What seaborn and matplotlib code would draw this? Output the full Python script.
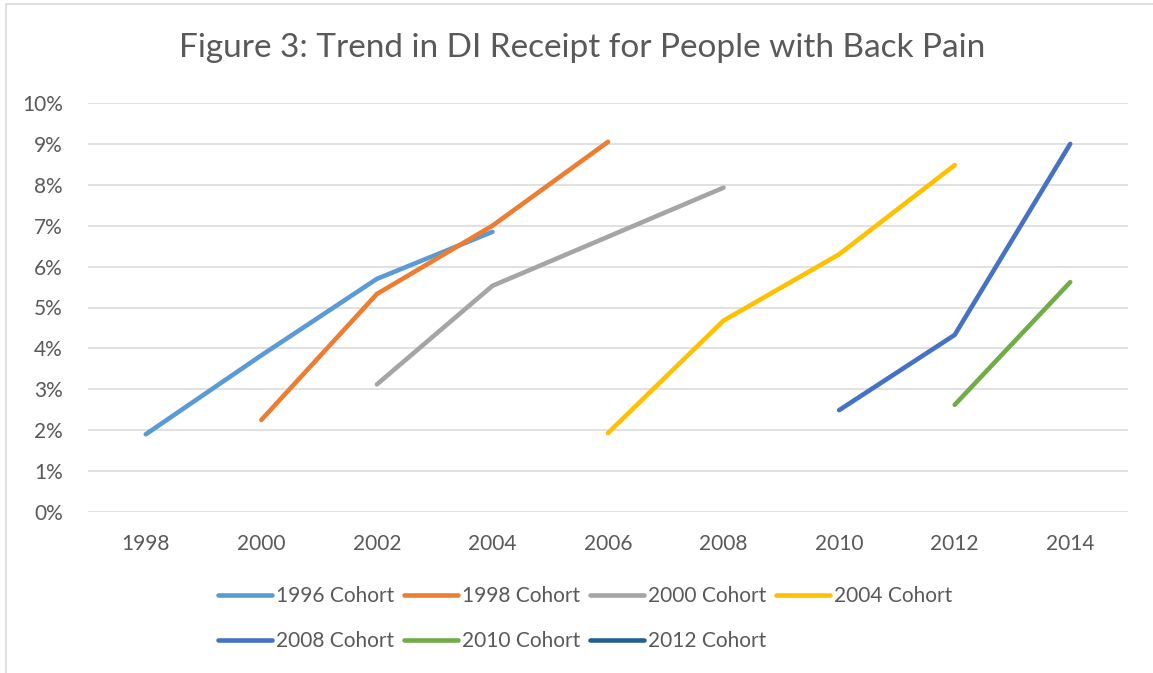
import numpy as np
import pandas as pd
import seaborn as sns
import matplotlib.pyplot as plt
from matplotlib.lines import Line2D
from matplotlib.patches import Rectangle
from matplotlib.ticker import PercentFormatter

# Werte (Anteil in %)
years = [1998, 2000, 2002, 2004, 2006, 2008, 2010, 2012, 2014]
nan = np.nan
cohort_1996 = [1.90, 3.83, 5.70, 6.85, nan, nan, nan, nan, nan]
cohort_1998 = [nan, 2.25, 5.33, 7.00, 9.05, nan, nan, nan, nan]
cohort_2000 = [nan, nan, 3.12, 5.53, 6.73, 7.93, nan, nan, nan]
cohort_2004 = [nan, nan, nan, nan, 1.93, 4.68, 6.30, 8.48, nan]
cohort_2008 = [nan, nan, nan, nan, nan, nan, 2.49, 4.33, 9.00]
cohort_2010 = [nan, nan, nan, nan, nan, nan, nan, 2.62, 5.62]
cohort_2012 = [nan, nan, nan, nan, nan, nan, nan, nan, nan]

cohorts = ['1996 Cohort', '1998 Cohort', '2000 Cohort', '2004 Cohort',
           '2008 Cohort', '2010 Cohort', '2012 Cohort']
colors = ['#5B9BD5', '#ED7D31', '#A5A5A5', '#FFC000',
          '#4472C4', '#70AD47', '#255E91']

wide = pd.DataFrame({'year': years,
                     '1996 Cohort': cohort_1996, '1998 Cohort': cohort_1998,
                     '2000 Cohort': cohort_2000, '2004 Cohort': cohort_2004,
                     '2008 Cohort': cohort_2008, '2010 Cohort': cohort_2010,
                     '2012 Cohort': cohort_2012})
data = wide.melt(id_vars='year', var_name='cohort', value_name='value').dropna()
present = [c for c in cohorts if c in data['cohort'].unique()]
palette = dict(zip(cohorts, colors))

sns.set_style('white')
plt.rcParams['font.family'] = ['Lato', 'DejaVu Sans']
text_color = '#595959'

fig = plt.figure(figsize=(11.53, 6.73), dpi=100)
ax = fig.add_axes([88 / 1153, 1 - 512 / 673, 1040 / 1153, 409 / 673])

sns.lineplot(data=data, x='year', y='value', hue='cohort', hue_order=present,
             palette=palette, linewidth=3.3, errorbar=None, legend=False, ax=ax)
for line in ax.get_lines():
    line.set_solid_capstyle('round')
    line.set_solid_joinstyle('round')

ax.set_xlim(1997, 2015)
ax.set_ylim(0, 10)
ax.set_xticks(years)
ax.set_yticks(range(0, 11))
ax.yaxis.set_major_formatter(PercentFormatter(decimals=0))
ax.grid(axis='y', color='#D9D9D9', linewidth=1.1)
ax.set_axisbelow(True)
sns.despine(ax=ax, left=True, bottom=True)
ax.tick_params(axis='both', length=0, labelsize=15, colors=text_color)
ax.tick_params(axis='y', pad=18)
ax.tick_params(axis='x', pad=16)
ax.set_xlabel('')
ax.set_ylabel('')

fig.text(582 / 1153, 1 - 48 / 673, 'Figure 3: Trend in DI Receipt for People with Back Pain',
         ha='center', va='center', fontsize=24, color=text_color, fontweight='normal')

# Legende: Reihenfolge zeilenweise (matplotlib fuellt spaltenweise)
handles = [Line2D([], [], color=palette[c], linewidth=3.3, solid_capstyle='round') for c in cohorts]
order = [0, 4, 1, 5, 2, 6, 3]
leg = fig.legend([handles[i] for i in order], [cohorts[i] for i in order],
                 loc='center', bbox_to_anchor=(585 / 1153, 1 - 618.5 / 673),
                 ncol=4, frameon=False, fontsize=15, handlelength=2.6,
                 handletextpad=0.2, columnspacing=0.45, labelspacing=1.2)
for t in leg.get_texts():
    t.set_color(text_color)

fig.patches.append(Rectangle((6 / 1153, -0.05), 1.2, 0.05 + 1 - 4 / 673,
                             transform=fig.transFigure, fill=False,
                             edgecolor='#D9D9D9', linewidth=1.2))

fig.savefig('out.png', dpi=100)
